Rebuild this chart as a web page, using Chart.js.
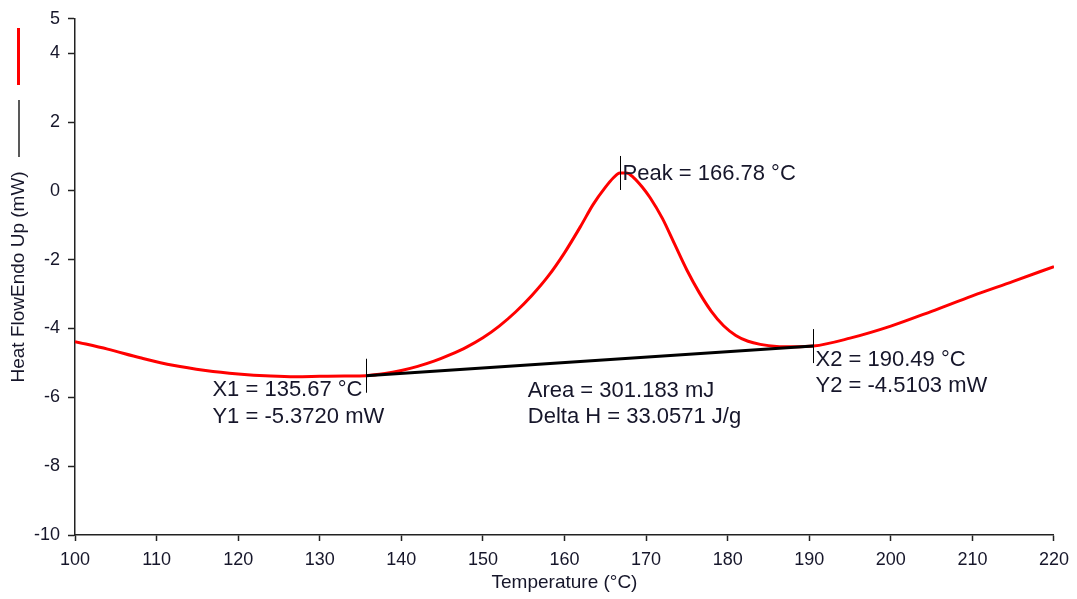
<!DOCTYPE html>
<html>
<head>
<meta charset="utf-8">
<script src="https://cdn.jsdelivr.net/npm/chart.js@4/dist/chart.umd.min.js"></script>
<style>
  html, body { margin: 0; padding: 0; background: #fff; }
  #wrap { width: 1077px; height: 599px; position: relative; }
</style>
</head>
<body>
<div id="wrap"><canvas id="c" width="1077" height="599"></canvas></div>
<script>
// ---- data ----
const temperature = [100, 104, 108, 112, 116, 120, 124, 127, 130, 133, 135.67, 138, 140, 142, 144, 146, 148, 150, 152, 154, 156, 158, 160, 162, 163.5, 165, 166, 166.78, 167.6, 168.5, 169.5, 170.5, 172, 173.5, 175, 176.5, 178, 179.5, 181, 182.5, 184, 186, 188, 190.49, 195, 200, 205, 210, 215, 220];
const heatFlow = [-4.38, -4.60, -4.85, -5.07, -5.22, -5.32, -5.38, -5.40, -5.39, -5.38, -5.37, -5.31, -5.22, -5.10, -4.95, -4.76, -4.54, -4.27, -3.93, -3.52, -3.04, -2.48, -1.80, -1.02, -0.40, 0.10, 0.38, 0.52, 0.52, 0.38, 0.12, -0.20, -0.80, -1.55, -2.30, -2.95, -3.50, -3.92, -4.20, -4.37, -4.46, -4.52, -4.53, -4.51, -4.28, -3.93, -3.50, -3.05, -2.63, -2.20];
const baselineX = [135.67, 190.49];
const baselineY = [-5.3720, -4.5103];
const peakX = 166.78;
const peakY = 0.52;
const yTicks = [-10, -8, -6, -4, -2, 0, 2, 4, 5];
const xTitle = 'Temperature (°C)';
const yTitle = 'Heat FlowEndo Up (mW)';
const peakLabel = 'Peak = 166.78 °C';
const x1Labels = ['X1 = 135.67 °C', 'Y1 = -5.3720 mW'];
const x2Labels = ['X2 = 190.49 °C', 'Y2 = -4.5103 mW'];
const areaLabels = ['Area = 301.183 mJ', 'Delta H = 33.0571 J/g'];
const areaAnchor = [155.5, -5.8];

const FONT = "'Liberation Sans', Arial, sans-serif";
const TXT = '#16162a';

const annotations = {
  id: 'annotations',
  beforeDraw(chart) {
    const ctx = chart.ctx;
    ctx.save();
    // legend marks (left)
    ctx.strokeStyle = '#ff0000';
    ctx.lineWidth = 3;
    ctx.beginPath(); ctx.moveTo(18.5, 28); ctx.lineTo(18.5, 85); ctx.stroke();
    ctx.strokeStyle = '#222';
    ctx.lineWidth = 1.5;
    ctx.beginPath(); ctx.moveTo(19, 100); ctx.lineTo(19, 157); ctx.stroke();
    ctx.restore();
  },
  afterDatasetsDraw(chart) {
    const ctx = chart.ctx;
    const xs = chart.scales.x, ys = chart.scales.y;
    ctx.save();
    ctx.strokeStyle = '#000';
    ctx.lineWidth = 1;
    const vtick = (xv, yv) => {
      const px = Math.round(xs.getPixelForValue(xv)) + 0.5;
      const py = ys.getPixelForValue(yv);
      ctx.beginPath(); ctx.moveTo(px, py - 17); ctx.lineTo(px, py + 17); ctx.stroke();
      return [px, py];
    };
    ctx.font = '22px ' + FONT;
    ctx.fillStyle = TXT;
    ctx.textBaseline = 'middle';
    ctx.textAlign = 'left';
    // peak
    const [ppx, ppy] = vtick(peakX, peakY);
    ctx.fillText(peakLabel, ppx + 2, ppy + 1);
    // X1
    const [p1x, p1y] = vtick(baselineX[0], baselineY[0]);
    const w1 = ctx.measureText(x1Labels[0]).width;
    const left1 = p1x - 4 - w1;
    ctx.fillText(x1Labels[0], left1, p1y + 14);
    ctx.fillText(x1Labels[1], left1, p1y + 41);
    // X2
    const [p2x, p2y] = vtick(baselineX[1], baselineY[1]);
    ctx.fillText(x2Labels[0], p2x + 2, p2y + 14);
    ctx.fillText(x2Labels[1], p2x + 2, p2y + 40);
    // Area
    const ax = xs.getPixelForValue(areaAnchor[0]);
    const ay = ys.getPixelForValue(areaAnchor[1]);
    ctx.fillText(areaLabels[0], ax, ay);
    ctx.fillText(areaLabels[1], ax, ay + 26);
    ctx.restore();
  }
};

new Chart(document.getElementById('c'), {
  type: 'line',
  data: {
    datasets: [
      {
        label: 'Heat Flow',
        data: temperature.map((t, i) => ({ x: t, y: heatFlow[i] })),
        borderColor: '#ff0000',
        borderWidth: 3,
        pointRadius: 0,
        cubicInterpolationMode: 'monotone',
        fill: false,
        order: 2
      },
      {
        label: 'Baseline',
        data: baselineX.map((t, i) => ({ x: t, y: baselineY[i] })),
        borderColor: '#000',
        borderWidth: 3,
        pointRadius: 0,
        fill: false,
        order: 1
      }
    ]
  },
  options: {
    responsive: false,
    animation: false,
    events: [],
    layout: { padding: { top: 16, right: 23, bottom: 0, left: 0 } },
    plugins: { legend: { display: false }, tooltip: { enabled: false } },
    scales: {
      x: {
        type: 'linear',
        min: 100, max: 220,
        afterFit(s) { s.height = 64; },
        ticks: { stepSize: 10, color: TXT, font: { family: FONT, size: 18 }, padding: 8, maxRotation: 0 },
        grid: { drawOnChartArea: false, drawTicks: true, tickLength: 6, color: '#222', tickWidth: 1.5 },
        border: { color: '#222', width: 1.5 },
        title: { display: true, text: xTitle, color: TXT, font: { family: FONT, size: 19 }, padding: { top: 0, bottom: 5 } }
      },
      y: {
        type: 'linear',
        min: -10, max: 5,
        afterBuildTicks(s) { s.ticks = yTicks.map(v => ({ value: v })); },
        afterFit(s) { s.width = 75; },
        ticks: { color: TXT, font: { family: FONT, size: 18 }, padding: 8 },
        grid: { drawOnChartArea: false, drawTicks: true, tickLength: 7, color: '#222', tickWidth: 1.5 },
        border: { color: '#222', width: 1.5 },
        title: { display: true, text: yTitle, color: TXT, font: { family: FONT, size: 19 }, padding: { top: 7, bottom: 0 } }
      }
    }
  },
  plugins: [annotations]
});
</script>
</body>
</html>
